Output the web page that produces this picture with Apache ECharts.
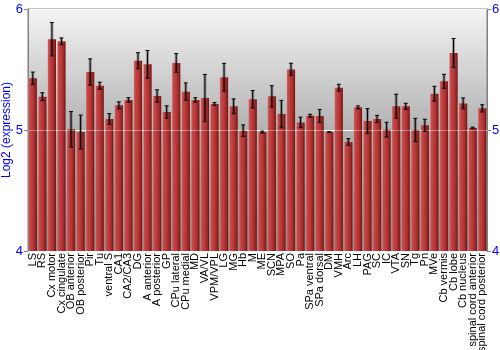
<!DOCTYPE html>
<html><head><meta charset="utf-8">
<script src="https://cdn.jsdelivr.net/npm/echarts@6/dist/echarts.min.js"></script>
<style>html,body{margin:0;padding:0;background:#fff}#c{width:500px;height:350px}</style>
</head><body><div id="c"></div>
<script>
var categories = ["LS","RS","Cx motor","Cx cingulate","OB anterior","OB posterior","Pir","Tu","ventral S","CA1","CA2/CA3","DG","A anterior","A posterior","GP","CPu lateral","CPu medial","MD","VA/VL","VPM/VPL","LG","MG","Hb","M","ME","SCN","MPA","SO","Pa","SPa ventral","SPa dorsal","DM","VMH","Arc","LH","PAG","SC","IC","VTA","SN","Tg","Pn","MVe","Cb vermis","Cb lobe","Cb nucleus","spinal cord anterior","spinal cord posterior"];
var values = [5.427,5.275,5.75,5.733,5.006,4.983,5.479,5.366,5.091,5.204,5.248,5.573,5.543,5.281,5.149,5.554,5.317,5.248,5.264,5.215,5.435,5.196,4.994,5.254,4.983,5.278,5.132,5.501,5.063,5.118,5.116,4.983,5.350,4.901,5.187,5.074,5.091,5.003,5.196,5.196,5.0,5.039,5.300,5.402,5.636,5.220,5.017,5.179];
var errors = [0.052,0.033,0.138,0.028,0.146,0.14,0.109,0.029,0.044,0.029,0.019,0.066,0.114,0.051,0.051,0.077,0.072,0.019,0.195,0.012,0.116,0.061,0.048,0.072,0.008,0.088,0.113,0.051,0.043,0.012,0.054,0.004,0.028,0.028,0.012,0.103,0.03,0.061,0.1,0.025,0.096,0.05,0.061,0.058,0.12,0.045,0.006,0.03];
var yTicks = [4,5,6];

var errData = values.map(function(v,i){return [i, v-errors[i], v+errors[i]];});
var chart = echarts.init(document.getElementById('c'), null, {renderer:'canvas'});
var barGrad = new echarts.graphic.LinearGradient(0,0,1,0,[
  {offset:0,color:'#d87070'},{offset:0.12,color:'#c84a4a'},{offset:0.5,color:'#b83838'},
  {offset:0.8,color:'#9c2626'},{offset:1,color:'#6a1212'}]);
var yLab = {color:'#0000ff', fontSize:13, fontFamily:'Liberation Sans, Arial, sans-serif'};
chart.setOption({
  animation:false,
  grid:{left:28,right:13,top:9,bottom:99,containLabel:false,outerBoundsMode:'none',show:true,borderColor:'#808080',borderWidth:1,
    backgroundColor:new echarts.graphic.LinearGradient(0,0,0,1,[{offset:0,color:'#f4f4f4'},{offset:0.5,color:'#b2b2b2'},{offset:1,color:'#8e8e8e'}])},
  xAxis:{type:'category',data:categories,axisLine:{show:false},axisTick:{show:false},
    axisLabel:{rotate:90,interval:0,margin:2,color:'#000',fontSize:11,fontFamily:'Liberation Sans, Arial, sans-serif'}},
  yAxis:[
    {type:'value',min:yTicks[0],max:yTicks[2],interval:1,position:'left',
      name:'Log2 (expression)',nameLocation:'middle',nameGap:15,nameRotate:90,nameMoveOverlap:false,
      nameTextStyle:{color:'#0000ff',fontSize:12,fontFamily:'Liberation Sans, Arial, sans-serif'},
      axisLine:{show:true,lineStyle:{color:'#808080'}},axisTick:{show:true,length:4,lineStyle:{color:'#808080'}},
      axisLabel:Object.assign({margin:5},yLab),
      splitLine:{show:true,lineStyle:{color:'#f8f8f8',width:1}}},
    {type:'value',min:yTicks[0],max:yTicks[2],interval:1,position:'right',
      axisLine:{show:true,lineStyle:{color:'#808080'}},axisTick:{show:true,length:4,lineStyle:{color:'#808080'}},
      axisLabel:Object.assign({margin:5},yLab),splitLine:{show:false}}
  ],
  series:[
    {type:'bar',data:values,barCategoryGap:'14%',itemStyle:{color:barGrad},
      markLine:{silent:true,symbol:['none','none'],label:{show:false},
        lineStyle:{color:'rgba(255,255,255,0.35)',width:1,type:'solid'},data:[{yAxis:5}]}},
    {type:'custom',data:errData,z:5,
      renderItem:function(params,api){
        var i=api.value(0), lo=api.coord([i,api.value(1)]), hi=api.coord([i,api.value(2)]);
        var x=lo[0], c=2;
        var sh={stroke:'rgba(0,0,0,0.3)',lineWidth:3};
        var st={stroke:'#000',lineWidth:1};
        return {type:'group',children:[
          {type:'line',shape:{x1:x,y1:hi[1],x2:x,y2:lo[1]},style:sh},
          {type:'line',shape:{x1:x,y1:hi[1],x2:x,y2:lo[1]},style:st},
          {type:'line',shape:{x1:x-c,y1:hi[1],x2:x+c,y2:hi[1]},style:st},
          {type:'line',shape:{x1:x-c,y1:lo[1],x2:x+c,y2:lo[1]},style:st}
        ]};
      }}
  ]
});
</script></body></html>
